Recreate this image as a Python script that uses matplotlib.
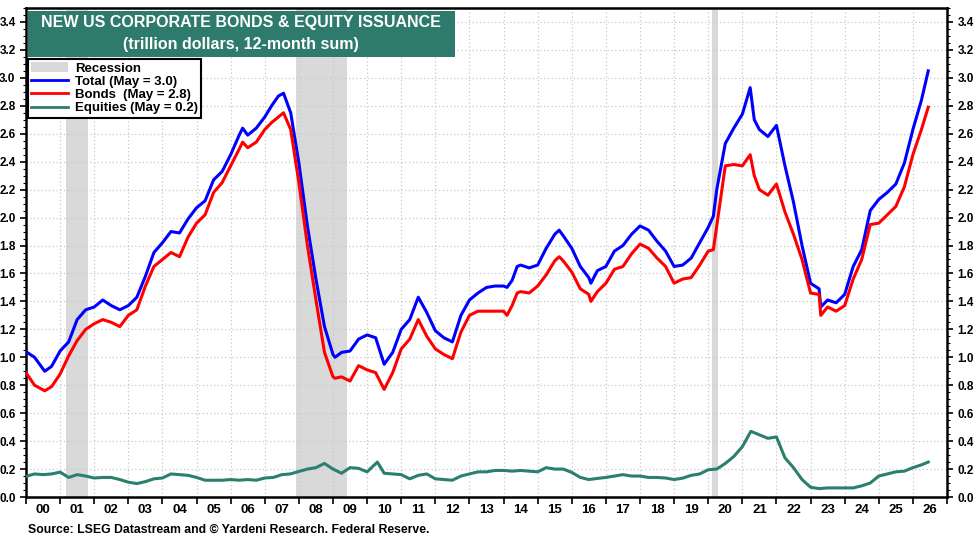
import numpy as np
import matplotlib
matplotlib.use('Agg')
import matplotlib.pyplot as plt
from matplotlib.patches import Patch, Rectangle
from matplotlib.lines import Line2D
from matplotlib.ticker import MultipleLocator, FixedLocator, FixedFormatter

plt.rcParams['font.family'] = 'Liberation Sans'
plt.rcParams['font.weight'] = 'bold'

# data (decimal years, trillion $)
t_total = [2000.0, 2000.25, 2000.55, 2000.75, 2001.0, 2001.25, 2001.5, 2001.75, 2002.0, 2002.25,
           2002.5, 2002.75, 2003.0, 2003.25, 2003.5, 2003.75, 2004.0, 2004.25, 2004.5, 2004.75,
           2005.0, 2005.25, 2005.5, 2005.75, 2006.0, 2006.25, 2006.35, 2006.5, 2006.75, 2007.0,
           2007.2, 2007.4, 2007.55, 2007.76, 2008.0, 2008.25, 2008.5, 2008.75, 2009.0, 2009.06,
           2009.25, 2009.5, 2009.75, 2010.0, 2010.25, 2010.5, 2010.75, 2011.0, 2011.25, 2011.5,
           2011.75, 2012.0, 2012.25, 2012.5, 2012.75, 2013.0, 2013.25, 2013.5, 2013.75, 2014.0,
           2014.1, 2014.25, 2014.4, 2014.5, 2014.75, 2015.0, 2015.25, 2015.5, 2015.63, 2015.75,
           2016.0, 2016.25, 2016.5, 2016.56, 2016.75, 2017.0, 2017.25, 2017.5, 2017.75, 2018.0,
           2018.25, 2018.5, 2018.75, 2019.0, 2019.25, 2019.5, 2019.75, 2020.0, 2020.15, 2020.25,
           2020.5, 2020.75, 2021.0, 2021.23, 2021.35, 2021.5, 2021.75, 2022.0, 2022.25, 2022.5,
           2022.75, 2023.0, 2023.25, 2023.3, 2023.5, 2023.75, 2024.0, 2024.25, 2024.5, 2024.75,
           2025.0, 2025.25, 2025.5, 2025.75, 2026.0, 2026.25, 2026.45]
total = [1.04, 1.00, 0.90, 0.935, 1.045, 1.11, 1.27, 1.34, 1.36, 1.41,
         1.37, 1.34, 1.37, 1.43, 1.58, 1.75, 1.82, 1.90, 1.89, 1.99,
         2.07, 2.12, 2.27, 2.33, 2.45, 2.59, 2.64, 2.59, 2.64, 2.72,
         2.80, 2.87, 2.89, 2.75, 2.39, 1.94, 1.56, 1.22, 1.02, 1.00,
         1.035, 1.045, 1.13, 1.16, 1.14, 0.95, 1.035, 1.20, 1.27, 1.43,
         1.32, 1.19, 1.14, 1.11, 1.30, 1.41, 1.46, 1.50, 1.51, 1.51,
         1.50, 1.55, 1.65, 1.66, 1.64, 1.66, 1.78, 1.88, 1.91, 1.87,
         1.78, 1.65, 1.57, 1.53, 1.62, 1.65, 1.76, 1.80, 1.88, 1.94,
         1.91, 1.83, 1.76, 1.65, 1.66, 1.71, 1.82, 1.93, 2.01, 2.20,
         2.53, 2.64, 2.74, 2.93, 2.70, 2.63, 2.58, 2.66, 2.37, 2.11,
         1.80, 1.53, 1.49, 1.36, 1.41, 1.39, 1.45, 1.65, 1.77, 2.05,
         2.13, 2.18, 2.24, 2.39, 2.63, 2.84, 3.05]
bonds = [0.89, 0.80, 0.76, 0.79, 0.88, 1.01, 1.12, 1.20, 1.24, 1.27,
         1.25, 1.22, 1.30, 1.34, 1.51, 1.65, 1.70, 1.75, 1.72, 1.86,
         1.96, 2.02, 2.18, 2.25, 2.37, 2.49, 2.54, 2.50, 2.54, 2.63,
         2.68, 2.72, 2.75, 2.63, 2.25, 1.80, 1.41, 1.035, 0.86, 0.85,
         0.86, 0.83, 0.94, 0.91, 0.89, 0.77, 0.89, 1.06, 1.13, 1.27,
         1.15, 1.06, 1.02, 0.99, 1.18, 1.30, 1.33, 1.33, 1.33, 1.33,
         1.30, 1.37, 1.46, 1.47, 1.46, 1.51, 1.59, 1.69, 1.72, 1.69,
         1.61, 1.49, 1.45, 1.40, 1.47, 1.53, 1.63, 1.65, 1.74, 1.81,
         1.78, 1.71, 1.65, 1.53, 1.56, 1.57, 1.66, 1.76, 1.77, 1.94,
         2.37, 2.38, 2.37, 2.45, 2.30, 2.20, 2.16, 2.24, 2.04, 1.88,
         1.70, 1.46, 1.45, 1.30, 1.36, 1.33, 1.37, 1.56, 1.70, 1.95,
         1.96, 2.02, 2.08, 2.22, 2.45, 2.63, 2.79]

t_eq = [2000.0, 2000.25, 2000.5, 2000.75, 2001.0, 2001.25, 2001.5, 2001.75, 2002.0, 2002.25,
        2002.5, 2002.75, 2003.0, 2003.25, 2003.5, 2003.75, 2004.0, 2004.25, 2004.5, 2004.75,
        2005.0, 2005.25, 2005.5, 2005.75, 2006.0, 2006.25, 2006.5, 2006.75, 2007.0, 2007.25,
        2007.5, 2007.75, 2008.0, 2008.25, 2008.5, 2008.75, 2009.0, 2009.25, 2009.5, 2009.75,
        2010.0, 2010.3, 2010.5, 2010.75, 2011.0, 2011.25, 2011.5, 2011.75, 2012.0, 2012.25,
        2012.5, 2012.75, 2013.0, 2013.25, 2013.5, 2013.75, 2014.0, 2014.25, 2014.5, 2014.75,
        2015.0, 2015.25, 2015.5, 2015.75, 2016.0, 2016.25, 2016.5, 2016.75, 2017.0, 2017.25,
        2017.5, 2017.75, 2018.0, 2018.25, 2018.5, 2018.75, 2019.0, 2019.25, 2019.5, 2019.75,
        2020.0, 2020.25, 2020.5, 2020.75, 2021.0, 2021.25, 2021.5, 2021.75, 2022.0, 2022.25,
        2022.5, 2022.75, 2023.0, 2023.25, 2023.5, 2023.75, 2024.0, 2024.25, 2024.5, 2024.75,
        2025.0, 2025.25, 2025.5, 2025.75, 2026.0, 2026.25, 2026.45]
equities = [0.148, 0.165, 0.16, 0.165, 0.178, 0.14, 0.16, 0.15, 0.136, 0.14,
            0.14, 0.125, 0.106, 0.096, 0.11, 0.13, 0.136, 0.165, 0.16, 0.155,
            0.14, 0.12, 0.12, 0.12, 0.125, 0.12, 0.125, 0.12, 0.136, 0.14,
            0.16, 0.165, 0.183, 0.20, 0.21, 0.24, 0.20, 0.17, 0.21, 0.205,
            0.18, 0.25, 0.17, 0.165, 0.16, 0.13, 0.155, 0.165, 0.13, 0.125,
            0.12, 0.15, 0.165, 0.18, 0.18, 0.19, 0.19, 0.185, 0.19, 0.185,
            0.18, 0.21, 0.20, 0.20, 0.176, 0.14, 0.125, 0.133, 0.14, 0.15,
            0.16, 0.15, 0.15, 0.14, 0.14, 0.136, 0.125, 0.135, 0.155, 0.165,
            0.195, 0.20, 0.24, 0.29, 0.36, 0.47, 0.445, 0.42, 0.43, 0.28,
            0.21, 0.125, 0.07, 0.06, 0.065, 0.065, 0.065, 0.065, 0.08, 0.10,
            0.15, 0.165, 0.18, 0.185, 0.21, 0.23, 0.25]

recessions = [(2001.17, 2001.83), (2007.92, 2009.42), (2020.12, 2020.28)]
year_labels = ['%02d' % (y % 100) for y in range(2000, 2027)]

fig = plt.figure(figsize=(9.75, 5.39), dpi=100)
ax = fig.add_axes([26/975, 42/539, 921/975, 489/539])

for r0, r1 in recessions:
    ax.axvspan(r0, r1, color='#d9d9d9', lw=0, zorder=0)

ax.plot(t_total, total, color='#0000ff', lw=2.2, zorder=3)
ax.plot(t_total, bonds, color='#ff0000', lw=2.2, zorder=3)
ax.plot(t_eq, equities, color='#2b7f6f', lw=2.2, zorder=3)

ax.set_xlim(2000, 2027)
ax.set_ylim(0, 3.5)

ax.xaxis.set_major_locator(MultipleLocator(1))
ax.xaxis.set_major_formatter(plt.NullFormatter())
ax.xaxis.set_minor_locator(FixedLocator(np.arange(2000.5, 2027, 1)))
ax.xaxis.set_minor_formatter(FixedFormatter(year_labels))
ax.tick_params(axis='x', which='major', direction='out', length=5, width=1.2)
ax.tick_params(axis='x', which='minor', length=0, labelsize=9.5, pad=5)

ax.yaxis.set_major_locator(MultipleLocator(0.2))
ax.yaxis.set_minor_locator(MultipleLocator(0.05))
ax.yaxis.set_major_formatter(plt.FormatStrFormatter('%.1f'))
ax.tick_params(axis='y', which='both', direction='out', left=True, right=True,
               labelleft=True, labelright=True, labelsize=8.5)
ax.tick_params(axis='y', which='major', length=4, width=1.2)
ax.tick_params(axis='y', which='minor', length=2, width=0.8)
ax.set_yticks(np.arange(0, 3.41, 0.2))

ax.grid(True, which='major', color='#c8c8c8', linestyle=(0, (1, 2)), lw=0.9)
for s in ax.spines.values():
    s.set_linewidth(1.8)

# title box
fig.patches.append(Rectangle((28/975, 1 - 57/539), 427/975, 46/539,
                             transform=fig.transFigure, facecolor='#2e7b6d',
                             edgecolor='none', zorder=5))
fig.text(241/975, 1 - 22/539, 'NEW US CORPORATE BONDS & EQUITY ISSUANCE',
         ha='center', va='center', color='white', fontsize=11.5, fontweight='bold', zorder=6)
fig.text(241/975, 1 - 45/539, '(trillion dollars, 12-month sum)',
         ha='center', va='center', color='white', fontsize=11.5, fontweight='bold', zorder=6)

handles = [Patch(facecolor='#d9d9d9', edgecolor='none'),
           Line2D([], [], color='#0000ff', lw=2),
           Line2D([], [], color='#ff0000', lw=2),
           Line2D([], [], color='#2b7f6f', lw=2)]
labels = ['Recession', 'Total (May = 3.0)', 'Bonds  (May = 2.8)', 'Equities (May = 0.2)']
leg = ax.legend(handles, labels, loc='upper left', bbox_to_anchor=(28/975, 1 - 59/539),
                bbox_transform=fig.transFigure, fancybox=False, edgecolor='black',
                framealpha=1, fontsize=9.5, handlelength=2.8, handletextpad=0.5,
                borderpad=0.25, labelspacing=0.08, borderaxespad=0)
leg.get_frame().set_linewidth(1.5)
leg.set_zorder(6)

fig.text(28/975, 1 - 530/539, 'Source: LSEG Datastream and \u00a9 Yardeni Research. Federal Reserve.',
         ha='left', va='center', fontsize=8.8, fontweight='bold')

fig.savefig('out.png', dpi=100)
